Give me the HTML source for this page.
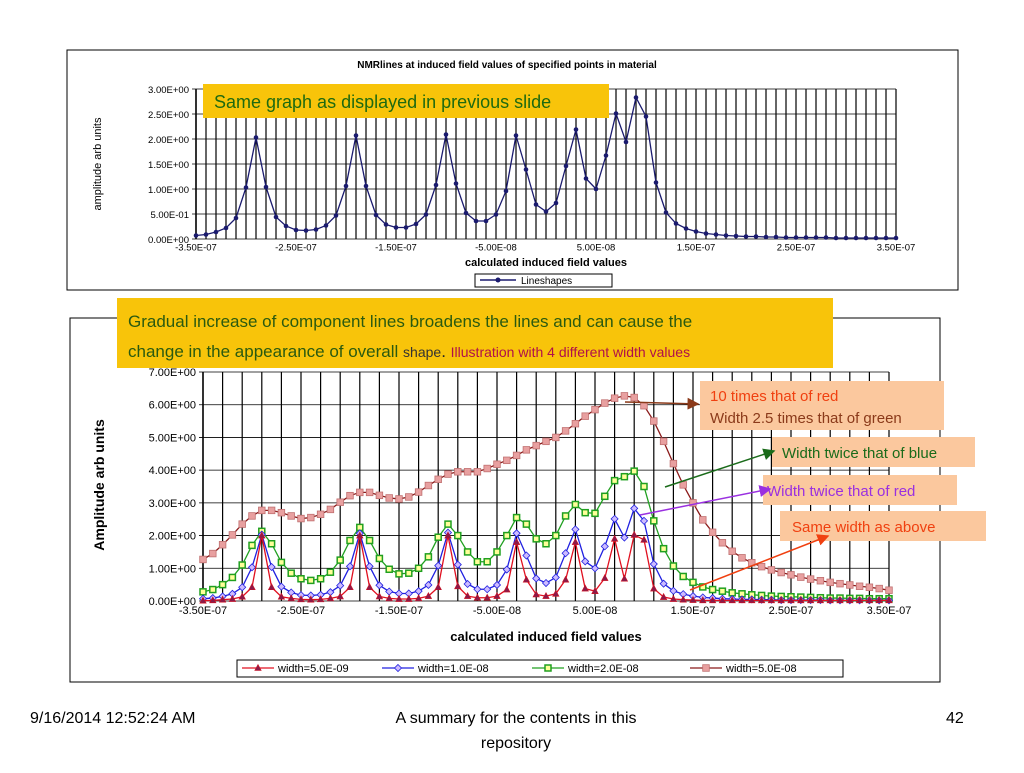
<!DOCTYPE html>
<html><head><meta charset="utf-8"><style>
body{margin:0;width:1024px;height:768px;background:#fff;overflow:hidden;font-family:"Liberation Sans",sans-serif;}
svg text{font-family:"Liberation Sans",sans-serif;}
</style></head><body>
<svg id="s" width="1024" height="768">
<defs>
<marker id="ab" markerWidth="8" markerHeight="8" refX="7" refY="4" orient="auto"><path d="M0,0L8,4L0,8z" fill="#8b3a1a"/></marker>
<marker id="ag" markerWidth="8" markerHeight="8" refX="7" refY="4" orient="auto"><path d="M0,0L8,4L0,8z" fill="#1a6b1a"/></marker>
<marker id="ap" markerWidth="8" markerHeight="8" refX="7" refY="4" orient="auto"><path d="M0,0L8,4L0,8z" fill="#9a30e0"/></marker>
<marker id="ar" markerWidth="8" markerHeight="8" refX="7" refY="4" orient="auto"><path d="M0,0L8,4L0,8z" fill="#f04010"/></marker>
</defs>
<rect x="67" y="50" width="891" height="240" fill="#fff" stroke="#000"/>
<rect x="70" y="318" width="870" height="364" fill="#fff" stroke="#000"/>
<g id="topg"></g><g id="bot"></g>
<text x="507" y="68" font-size="10" font-weight="bold" text-anchor="middle">NMRlines at induced field values of specified points in material</text>
<text x="546" y="266" font-size="11" font-weight="bold" text-anchor="middle">calculated induced field values</text>
<text transform="translate(101,164) rotate(-90)" font-size="11" text-anchor="middle">amplitude arb units</text>
<g><rect x="475" y="274" width="137" height="13" fill="#fff" stroke="#000"/><line x1="480" y1="280" x2="516" y2="280" stroke="#1a1a6e" stroke-width="1.5"/><circle cx="498" cy="280" r="2.5" fill="#1a1a6e"/><text x="521" y="284" font-size="10">Lineshapes</text></g>
<rect x="203" y="84" width="406" height="34" fill="#f8c40a"/>
<text x="214" y="108" font-size="18" fill="#1e6a10">Same graph as displayed in previous slide</text>
<text x="546" y="641" font-size="13" font-weight="bold" text-anchor="middle">calculated induced field values</text>
<text transform="translate(104,485) rotate(-90)" font-size="14" font-weight="bold" text-anchor="middle">Amplitude arb units</text>
<g id="leg"><rect x="237" y="660" width="606" height="17" fill="#fff" stroke="#000"/></g>
<rect x="117" y="298" width="716" height="70" fill="#f8c40a"/>
<text x="128" y="327" font-size="17" fill="#2a5a10">Gradual increase of component lines broadens the lines and can cause the</text>
<text x="128" y="357" font-size="17" fill="#2a5a10">change in the appearance of overall <tspan font-size="14" fill="#333">shape</tspan><tspan fill="#222">.</tspan> <tspan font-size="14" fill="#b0104a">Illustration with  4 different width values</tspan></text>
<rect x="700" y="381" width="244" height="49" fill="#fbc89e"/>
<text x="710" y="401" font-size="15" fill="#f04010">10 times that of red</text>
<text x="710" y="423" font-size="15" fill="#8b3a1a">Width 2.5 times that of green</text>
<rect x="772" y="437" width="203" height="30" fill="#fbc89e"/>
<text x="782" y="458" font-size="15" fill="#1a6b1a">Width twice that of blue</text>
<rect x="763" y="475" width="194" height="30" fill="#fbc89e"/>
<text x="767" y="496" font-size="15" fill="#9a30e0">Width twice that of red</text>
<rect x="780" y="511" width="206" height="30" fill="#fbc89e"/>
<text x="792" y="532" font-size="15" fill="#f04010">Same width as above</text>
<line x1="625" y1="402" x2="698" y2="404" stroke="#8b3a1a" stroke-width="1.5" marker-end="url(#ab)"/>
<line x1="665" y1="487" x2="774" y2="451" stroke="#1a6b1a" stroke-width="1.5" marker-end="url(#ag)"/>
<line x1="640" y1="515" x2="770" y2="489" stroke="#9a30e0" stroke-width="1.5" marker-end="url(#ap)"/>
<line x1="690" y1="590" x2="828" y2="536" stroke="#f04010" stroke-width="1.5" marker-end="url(#ar)"/>
<text x="30" y="723" font-size="16">9/16/2014 12:52:24 AM</text>
<text x="516" y="723" font-size="16" text-anchor="middle">A summary for the contents in this</text>
<text x="516" y="748" font-size="16" text-anchor="middle">repository</text>
<text x="946" y="723" font-size="16">42</text>
</svg>
<script>
const xTickLabels=["-3.50E-07","-2.50E-07","-1.50E-07","-5.00E-08","5.00E-08","1.50E-07","2.50E-07","3.50E-07"];
const topYTicks=["0.00E+00","5.00E-01","1.00E+00","1.50E+00","2.00E+00","2.50E+00","3.00E+00"];
const botYTicks=["0.00E+00","1.00E+00","2.00E+00","3.00E+00","4.00E+00","5.00E+00","6.00E+00","7.00E+00"];
const blue=[0.07,0.09,0.14,0.22,0.42,1.03,2.03,1.04,0.44,0.26,0.18,0.17,0.19,0.27,0.47,1.06,2.07,1.06,0.48,0.29,0.23,0.23,0.30,0.49,1.08,2.09,1.11,0.52,0.36,0.36,0.49,0.96,2.07,1.39,0.69,0.55,0.72,1.46,2.19,1.21,1.00,1.67,2.51,1.94,2.83,2.45,1.13,0.53,0.31,0.21,0.15,0.11,0.09,0.07,0.06,0.05,0.05,0.04,0.04,0.03,0.03,0.03,0.03,0.03,0.02,0.02,0.02,0.02,0.02,0.02,0.02];
const red=[0.01,0.02,0.04,0.06,0.13,0.42,2.0,0.42,0.13,0.08,0.05,0.04,0.05,0.08,0.14,0.42,2.0,0.42,0.14,0.08,0.06,0.06,0.08,0.15,0.42,2.0,0.45,0.15,0.1,0.1,0.15,0.35,1.8,0.65,0.2,0.15,0.22,0.65,1.8,0.38,0.3,0.7,1.9,0.68,2.02,1.87,0.38,0.12,0.06,0.04,0.03,0.02,0.02,0.02,0.02,0.02,0.02,0.02,0.02,0.02,0.02,0.02,0.02,0.02,0.02,0.02,0.02,0.02,0.02,0.02,0.02];
const green=[0.28,0.35,0.5,0.72,1.1,1.7,2.13,1.75,1.18,0.85,0.68,0.63,0.68,0.88,1.25,1.85,2.25,1.85,1.3,0.97,0.83,0.85,1.0,1.35,1.95,2.35,2.0,1.5,1.2,1.2,1.5,2.0,2.55,2.35,1.9,1.75,2.0,2.6,2.95,2.7,2.68,3.2,3.68,3.8,3.97,3.5,2.45,1.6,1.07,0.75,0.57,0.43,0.35,0.3,0.25,0.22,0.19,0.17,0.15,0.14,0.13,0.12,0.11,0.1,0.09,0.09,0.08,0.08,0.07,0.07,0.07];
const brown=[1.27,1.45,1.72,2.02,2.35,2.6,2.77,2.77,2.7,2.6,2.52,2.55,2.65,2.8,3.02,3.22,3.32,3.32,3.23,3.15,3.12,3.18,3.33,3.53,3.72,3.88,3.95,3.95,3.95,4.05,4.18,4.3,4.45,4.62,4.75,4.88,5.0,5.2,5.42,5.65,5.85,6.05,6.2,6.27,6.22,5.97,5.5,4.88,4.2,3.55,3.0,2.48,2.1,1.78,1.52,1.32,1.17,1.05,0.95,0.87,0.8,0.73,0.67,0.62,0.57,0.53,0.49,0.45,0.42,0.38,0.33];
const legendLabels=["width=5.0E-09","width=1.0E-08","width=2.0E-08","width=5.0E-08"];
const NS="http://www.w3.org/2000/svg";
function mk(p,t,a){const e=document.createElementNS(NS,t);for(const k in a)e.setAttribute(k,a[k]);p.appendChild(e);return e;}
function chart(g,x0,x1,y0,y1,ymax,ystep,yl,gridEvery,fs){
  const n=blue.length;
  const X=i=>x0+(x1-x0)*i/(n-1), Y=v=>y0-(y0-y1)*v/ymax;
  for(let i=0;i<n;i+=gridEvery){const l=mk(g,'line',{x1:X(i),x2:X(i),y1:y1,y2:y0,stroke:'#000','stroke-width':1.2});}
  yl.forEach((t,k)=>{const y=Y(k*ystep);const l=mk(g,'line',{x1:x0-4,x2:x1,y1:y,y2:y,stroke:'#000','stroke-width':0.8});
    const tx=mk(g,'text',{x:x0-7,y:y+4,'font-size':fs,'text-anchor':'end'});tx.textContent=t;});
  mk(g,'line',{x1:x0,x2:x0,y1:y1,y2:y0,stroke:'#000','stroke-width':1.5});
  xTickLabels.forEach((t,k)=>{const tx=mk(g,'text',{x:X(k*10),y:y0+12+(fs-10),'font-size':fs,'text-anchor':'middle'});tx.textContent=t;});
  return {X,Y};
}
function series(g,ax,data,color,marker,name){
  const s=mk(g,'g',{});
  mk(s,'polyline',{points:data.map((v,i)=>ax.X(i)+','+ax.Y(v)).join(' '),fill:'none',stroke:color,'stroke-width':1.3});
  data.forEach((v,i)=>drawMarker(s,ax.X(i),ax.Y(v),marker,color));
}
function drawMarker(s,x,y,m,c){
  let e;
  if(m==='dot')e=mk(s,'circle',{cx:x,cy:y,r:2.3,fill:c});
  else if(m==='tri')e=mk(s,'path',{d:`M${x},${y-3.5}L${x+3.2},${y+2.5}L${x-3.2},${y+2.5}z`,fill:'#8b1a4a',stroke:'#d01020','stroke-width':0.6});
  else if(m==='dia')e=mk(s,'path',{d:`M${x},${y-3.5}L${x+3.5},${y}L${x},${y+3.5}L${x-3.5},${y}z`,fill:'#ccbbff',stroke:'#2020e0','stroke-width':0.8});
  else if(m==='sq')e=mk(s,'rect',{x:x-3,y:y-3,width:6,height:6,fill:'#ffff99',stroke:'#20a020','stroke-width':1.5});
  else e=mk(s,'rect',{x:x-3.3,y:y-3.3,width:6.6,height:6.6,fill:'#e8a0a0',stroke:'#c07070','stroke-width':0.8});
  
}
const topG=document.getElementById('topg');
const a1=chart(topG,196,896,239,89,3,0.5,topYTicks,1,9.5);
series(topG,a1,blue,'#1a1a6e','dot','lineshapes-series');
const botG=document.getElementById('bot');
const a2=chart(botG,203,889,601,372,7,1,botYTicks,2,11);
series(botG,a2,brown,'#8b1a1a','sq2','width-5e-08-series');
series(botG,a2,green,'#20a020','sq','width-2e-08-series');
series(botG,a2,blue,'#2020e0','dia','width-1e-08-series');
series(botG,a2,red,'#e01020','tri','width-5e-09-series');
const leg=document.getElementById('leg');
const lc=['#e01020','#2020e0','#20a020','#8b1a1a'],lm=['tri','dia','sq','sq2'],lx=[242,382,532,690];
legendLabels.forEach((t,k)=>{mk(leg,'line',{x1:lx[k],x2:lx[k]+32,y1:668,y2:668,stroke:lc[k],'stroke-width':1.3});drawMarker(leg,lx[k]+16,668,lm[k],lc[k]);
  const tx=mk(leg,'text',{x:lx[k]+36,y:672,'font-size':11});tx.textContent=t;});
</script>
</body></html>
